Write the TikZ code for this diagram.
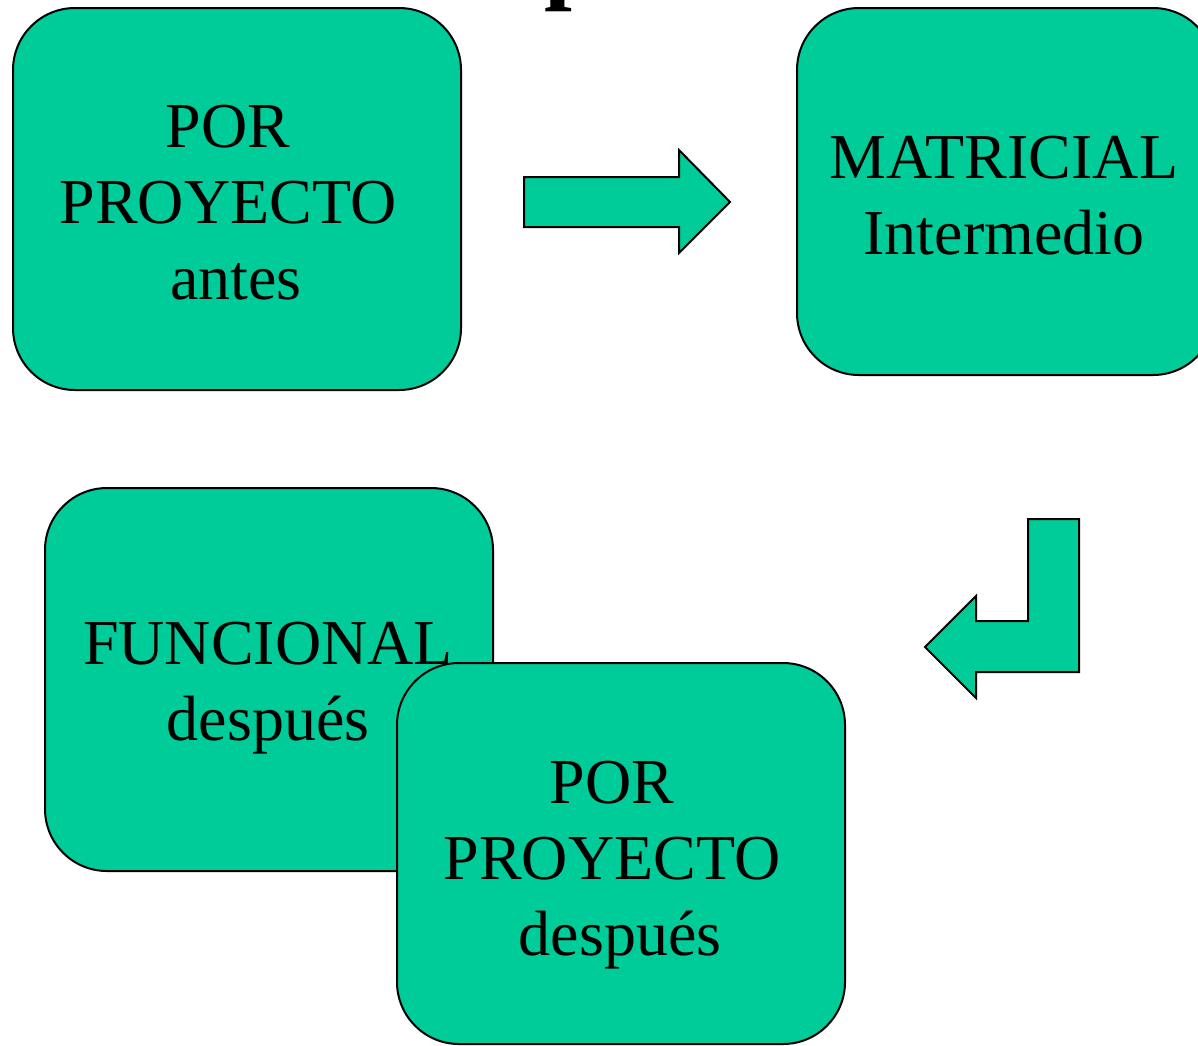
\documentclass[tikz,border=0pt]{standalone}
\usepackage{fontspec}
\setmainfont{Liberation Serif}
\definecolor{boxgreen}{HTML}{00CC99}
\begin{document}
\begin{tikzpicture}[x=1pt,y=-1pt,
  box/.style={draw=black,line width=2pt,fill=boxgreen,rounded corners=62pt,inner sep=0pt},
  label/.style={align=center,inner sep=0pt,font=\fontsize{64}{76}\selectfont},
  blockarrow/.style={draw=black,line width=2pt,fill=boxgreen,line join=miter}]
\useasboundingbox (0,0) rectangle (1198,1045);
% partial title glyph
\node[anchor=base west,inner sep=0pt,font=\fontsize{100}{110}\selectfont\bfseries] (title) at (544,-10) {p};
% boxes
\node[box,minimum width=448pt,minimum height=382pt] (b1) at (237,199) {};
\node[label] (t1) at (228,203) {POR\\PROYECTO\\\hspace*{16pt}antes};
\node[box,minimum width=418pt,minimum height=367pt] (b2) at (1006,191.5) {};
\node[label] (t2) at (1004,196) {MATRICIAL\\Intermedio};
\node[box,minimum width=448pt,minimum height=383pt] (b3) at (269,679.5) {};
\node[label] (t3) at (268,688) {FUNCIONAL\\despu\'es};
\node[box,minimum width=448pt,minimum height=381pt] (b4) at (621,853.5) {};
\node[label] (t4) at (612,865) {POR\\PROYECTO\\\hspace*{16pt}despu\'es};
% right block arrow
\draw[blockarrow] (524,177) -- (679,177) -- (679,150) -- (730,202) -- (679,253) -- (679,227) -- (524,227) -- cycle;
% bent block arrow
\draw[blockarrow] (1028,519) -- (1079,519) -- (1079,672) -- (976,672) -- (976,698) -- (925,647) -- (976,596) -- (976,621) -- (1028,621) -- cycle;
\end{tikzpicture}
\end{document}
